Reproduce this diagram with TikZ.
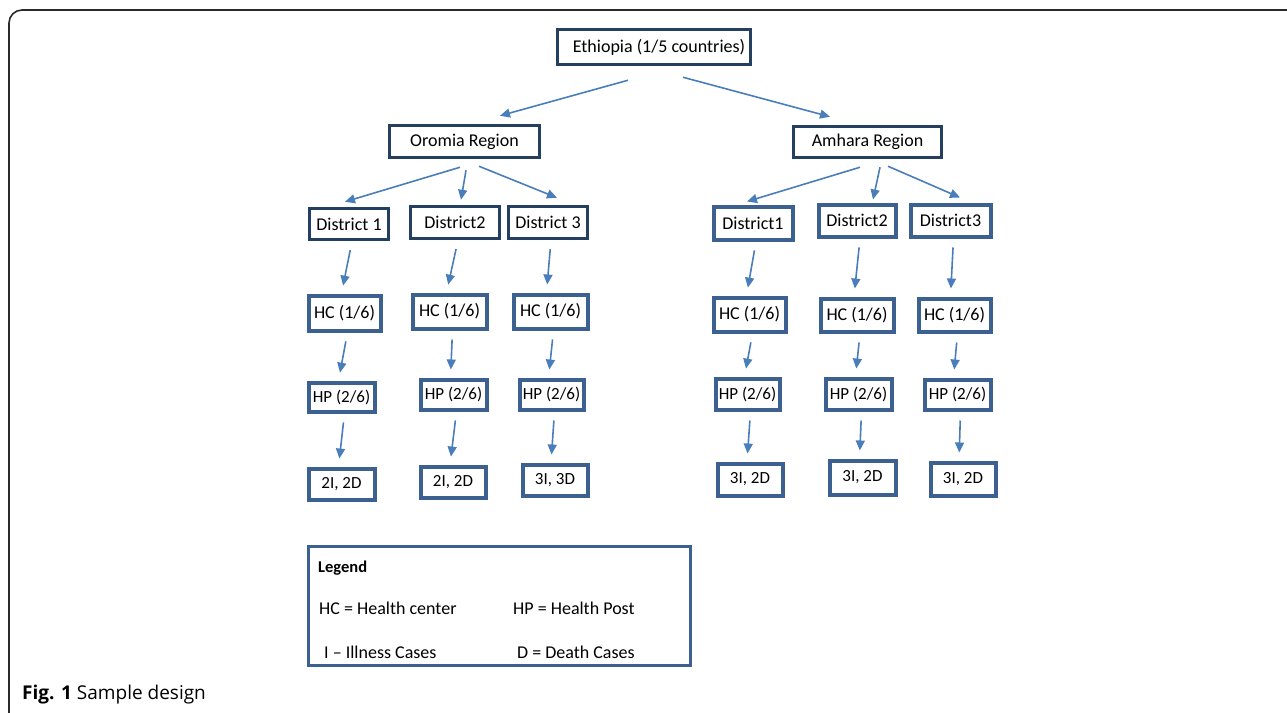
\documentclass[tikz,border=0pt]{standalone}
\usepackage{fontspec}
\setmainfont{Carlito}
\newfontfamily\capfont{Open Sans}
\usepackage{xcolor}
\definecolor{Deep Navy}{HTML}{243F60}
\definecolor{Steel Blue}{HTML}{3C6090}
\definecolor{Office Blue}{HTML}{4A7EBB}
\definecolor{Frame Grey}{HTML}{2B2B2B}
\colorlet{cDark}{Deep Navy}
\colorlet{cMid}{Steel Blue}
\colorlet{cArrow}{Office Blue}
\colorlet{cFrame}{Frame Grey}
\usepackage{tikz}
\usetikzlibrary{calc, arrows.meta, positioning}
\tikzset{
	line width = 1.5pt,
	>={Triangle[length=10pt, width=9pt]},
	font = \fontsize{18}{20}\selectfont,
	unit/.style={
		draw=cDark,
		line width=3.5pt,
		inner sep=0pt
	},
	site/.style={
		unit,
		draw=cMid,
		line width=4pt
	},
	small/.style={
		font=\fontsize{17}{19}\selectfont
	},
	edge/.style={
		->,
		draw=cArrow,
		line width=1.6pt
	},
	down/.style={
		edge,
		shorten <=9pt,
		shorten >=8pt
	},
	txt/.style={
		anchor=base west,
		inner sep=0pt
	}
}

\begin{document}
\begin{tikzpicture}[x=1pt, y=-1pt]
\useasboundingbox (0,0) rectangle (1287,712);
\clip (0,0) rectangle (1287,712);
\draw[cFrame, rounded corners=13pt, line width=1.6pt] (9,10) rectangle (1320,740);

% ---
% country and regions
% ---
\node[unit, minimum width=193pt, minimum height=35pt] (eth) at (654,47) {\hspace{10pt}Ethiopia (1/5 countries)};
\node[unit, minimum width=150pt, minimum height=32pt] (oro) at (464.5,141.5) {Oromia Region};
\node[unit, minimum width=148pt, minimum height=31pt] (amh) at (867.5,142) {Amhara Region};

\draw[edge] ($(eth.south)+(-26,14)$) to ($(oro.north)+(35.5,-8)$);
\draw[edge] ($(eth.south)+(29,11)$) to ($(amh.north)+(-37.5,-8)$);

% ---
% Oromia
% ---
\node[unit, minimum width=79pt, minimum height=31pt] (od1) at (349,224) {District 1};
\node[unit, minimum width=89pt, minimum height=32pt] (od2) at (455,222.5) {District2};
\node[unit, minimum width=79pt, minimum height=32pt] (od3) at (548,222.5) {District 3};
\node[site, minimum width=72pt, minimum height=35pt] (oc1) at (344.5,313) {HC (1/6)};
\node[site, minimum width=74pt, minimum height=34pt] (oc2) at (449.5,311.5) {HC (1/6)};
\node[site, minimum width=74pt, minimum height=34pt] (oc3) at (550.5,311.5) {HC (1/6)};
\node[site, small, minimum width=66pt, minimum height=29pt] (op1) at (341.5,397) {HP (2/6)};
\node[site, small, minimum width=66pt, minimum height=30pt] (op2) at (453.5,394.5) {HP (2/6)};
\node[site, small, minimum width=64pt, minimum height=30pt] (op3) at (551.5,394.5) {HP (2/6)};
\node[site, small, minimum width=66pt, minimum height=31pt] (or1) at (341.5,484) {2I, 2D};
\node[site, small, minimum width=65pt, minimum height=31pt] (or2) at (453,482) {2I, 2D};
\node[site, small, minimum width=65pt, minimum height=31pt] (or3) at (555,480) {3I, 3D};

\draw[edge] ($(oro.south)+(-4.5,8)$) to ($(od1.north)+(-4,-5)$);
\draw[edge] ($(oro.south)+(1.5,11)$) to ($(od2.north)+(6,-5)$);
\draw[edge] ($(oro.south)+(14.5,7)$) to ($(od3.north)+(9,-7)$);
\draw[down] ([xshift=3pt]od1.south) to ([xshift=-3pt]oc1.north);
\draw[down] ([xshift=3pt]od2.south) to ([xshift=-3pt]oc2.north);
\draw[down] ([xshift=3pt]od3.south) to ([xshift=-4pt]oc3.north);
\draw[down] ([xshift=3pt]oc1.south) to ([xshift=-3pt]op1.north);
\draw[down] ([xshift=3pt]oc2.south) to ([xshift=-3pt]op2.north);
\draw[down] ([xshift=3pt]oc3.south) to ([xshift=-3pt]op3.north);
\draw[down] ([xshift=3pt]op1.south) to ([xshift=-3pt]or1.north);
\draw[down] ([xshift=3pt]op2.south) to ([xshift=-3pt]or2.north);
\draw[down] ([xshift=3pt]op3.south) to ([xshift=-4pt]or3.north);

% ---
% Amhara
% ---
\node[site, minimum width=79pt, minimum height=33pt] (ad1) at (753,223) {District1};
\node[site, minimum width=77pt, minimum height=32pt] (ad2) at (857,220.5) {District2};
\node[site, minimum width=80pt, minimum height=32pt] (ad3) at (950.5,220.5) {District3};
\node[site, minimum width=72pt, minimum height=34pt] (ac1) at (749.5,314.5) {HC (1/6)};
\node[site, minimum width=73pt, minimum height=33pt] (ac2) at (857,315) {HC (1/6)};
\node[site, minimum width=72pt, minimum height=33pt] (ac3) at (954.5,315) {HC (1/6)};
\node[site, small, minimum width=64pt, minimum height=31pt] (ap1) at (747.5,394) {HP (2/6)};
\node[site, small, minimum width=66pt, minimum height=31pt] (ap2) at (858.5,394) {HP (2/6)};
\node[site, small, minimum width=66pt, minimum height=30pt] (ap3) at (957.5,394.5) {HP (2/6)};
\node[site, small, minimum width=65pt, minimum height=32pt] (ar1) at (750,479.5) {3I, 2D};
\node[site, small, minimum width=66pt, minimum height=34pt] (ar2) at (862.5,477.5) {3I, 2D};
\node[site, small, minimum width=65pt, minimum height=33pt] (ar3) at (963,479) {3I, 2D};

\draw[edge] ($(amh.south)+(-7.5,8)$) to ($(ad1.north)+(-6,-3)$);
\draw[edge] ($(amh.south)+(12.5,8)$) to ($(ad2.north)+(16,-3)$);
\draw[edge] ($(amh.south)+(20.5,7)$) to ($(ad3.north)+(9.5,-5)$);
\draw[down] ([xshift=3pt]ad1.south) to ([xshift=-3pt]ac1.north);
\draw[down] ([xshift=3pt]ad2.south) to ([xshift=-3pt]ac2.north);
\draw[down] ([xshift=3pt]ad3.south) to ([xshift=-4pt]ac3.north);
\draw[down] ([xshift=3pt]ac1.south) to ([xshift=-3pt]ap1.north);
\draw[down] ([xshift=3pt]ac2.south) to ([xshift=-3pt]ap2.north);
\draw[down] ([xshift=3pt]ac3.south) to ([xshift=-4pt]ap3.north);
\draw[down] ([xshift=3pt]ap1.south) to ([xshift=-3pt]ar1.north);
\draw[down] ([xshift=3pt]ap2.south) to ([xshift=-3pt]ar2.north);
\draw[down] ([xshift=3pt]ap3.south) to ([xshift=-4pt]ar3.north);

% ---
% legend
% ---
\node[unit, draw=cMid, line width=3pt, minimum width=382pt, minimum height=119pt] (key) at (499.5,606) {};
\node[txt, font=\fontsize{16.5}{18}\selectfont\bfseries] (keyhead) at (318,572) {Legend};
\node[txt] (keyhc) at (319,614) {HC = Health center};
\node[txt] (keyhp) at (513,614) {HP = Health Post};
\node[txt] (keyi) at (324,658) {I -- Illness Cases};
\node[txt] (keyd) at (517,658) {D = Death Cases};

\node[txt, font=\capfont\fontsize{19}{21}\selectfont] (caption) at (22,699) {\textbf{Fig. 1} Sample design};
\end{tikzpicture}
\end{document}
